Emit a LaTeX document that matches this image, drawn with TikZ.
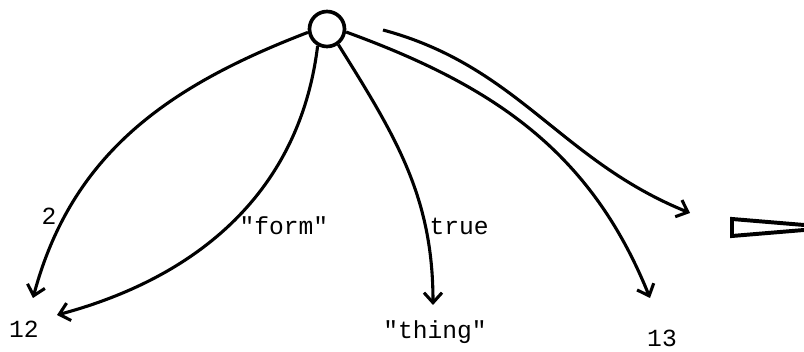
\documentclass[tikz,border=0pt]{standalone}
\usepackage{fontspec}
\setmonofont{Liberation Mono}
\usetikzlibrary{arrows.meta, positioning}

\begin{document}
\begin{tikzpicture}[x=0.025cm, y=-0.025cm, >={Straight Barb[length=2.5mm, width=4.5mm]},
    line width=2.2pt, inner sep=2pt,
    font=\ttfamily\fontsize{17.5}{20}\selectfont,
    leaf/.style={anchor=base}]
    \useasboundingbox (0,0) rectangle (804,352);
    \clip (0,0) rectangle (804,352);

    % Nodes
    \node[draw, circle, line width=2.6pt, minimum size=0.875cm, inner sep=0pt] (root) at (327,29) {};
    \node[leaf] (v12) at (24,338) {12};
    \node[leaf] (vthing) at (435,339) {"thing"};
    \node[leaf] (v13) at (662,347) {13};
    \coordinate (pstart) at (383,30);
    \coordinate (pend) at (690,213);

    % Arrows
    \draw[->] (root.190) to[out=201, in=75] node[pos=.79, left=3pt] (l2) {2} ([shift={(9,-40)}]v12.base);
    \draw[->] (root.241) to[out=263, in=15] node[pos=.52, right=5pt] (lform) {"form"} ([shift={(33,-23)}]v12.base);
    \draw[->] (root.306) to[out=-58, in=90] node[pos=.73, right] (ltrue) {true} ([shift={(-2,-34)}]vthing.base);
    \draw[->] (root.351) to[out=-20, in=112] ([shift={(-12,-49)}]v13.base);

    % free arrow and marker
    \draw[->] (pstart) to[out=-15, in=158] (pend);
    \draw[line width=2.8pt] (732,219) -- (732,236) -- (834,227.5) -- cycle;

\end{tikzpicture}
\end{document}
